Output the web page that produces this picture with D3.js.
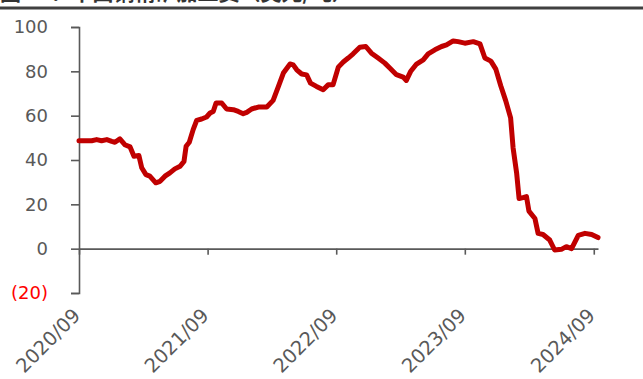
<!DOCTYPE html>
<html>
<head>
<meta charset="utf-8">
<script src="https://cdn.jsdelivr.net/npm/d3@7"></script>
<style>
	body { margin: 0; background: #fff; }
	#chart { width: 643px; height: 379px; }
</style>
</head>
<body>
<div id="chart"></div>
<script>
// 铜精矿加工费 (美元/吨)
const dates = [
	'2020-09-01', '2020-10-07', '2020-10-21', '2020-11-04', '2020-11-19', '2020-12-03', '2020-12-12', '2020-12-26',
	'2021-01-09', '2021-01-24', '2021-02-04', '2021-02-18', '2021-02-26', '2021-03-10', '2021-03-21', '2021-04-07',
	'2021-04-19', '2021-05-03', '2021-05-17', '2021-05-31', '2021-06-15', '2021-06-26', '2021-07-02', '2021-07-11',
	'2021-07-22', '2021-08-01', '2021-08-15', '2021-08-29', '2021-09-08', '2021-09-17', '2021-09-25', '2021-10-11',
	'2021-10-25', '2021-11-13', '2021-11-27', '2021-12-11', '2021-12-21', '2022-01-04', '2022-01-23', '2022-02-16',
	'2022-03-06', '2022-03-21', '2022-04-04', '2022-04-23', '2022-05-02', '2022-05-12', '2022-05-26', '2022-06-09',
	'2022-06-20', '2022-07-07', '2022-07-26', '2022-08-09', '2022-08-23', '2022-09-07', '2022-09-21', '2022-10-05',
	'2022-10-19', '2022-11-07', '2022-11-24', '2022-12-10', '2022-12-29', '2023-01-17', '2023-01-31', '2023-02-19',
	'2023-03-10', '2023-03-19', '2023-03-31', '2023-04-17', '2023-05-06', '2023-05-20', '2023-06-08', '2023-06-27',
	'2023-07-11', '2023-07-30', '2023-08-13', '2023-09-01', '2023-09-25', '2023-10-14', '2023-10-28', '2023-11-14',
	'2023-11-28', '2023-12-12', '2023-12-26', '2024-01-09', '2024-01-16', '2024-01-26', '2024-02-02', '2024-02-13',
	'2024-02-23', '2024-03-01', '2024-03-18', '2024-03-27', '2024-04-10', '2024-04-29', '2024-05-13', '2024-06-01',
	'2024-06-15', '2024-06-30', '2024-07-19', '2024-08-07', '2024-08-26', '2024-09-13'
];
const values = [
	48.7, 48.7, 49.2, 48.7, 49.2, 48.4, 48.0, 49.5,
	46.9, 45.9, 41.7, 42.0, 36.5, 33.4, 32.7, 29.7,
	30.4, 32.7, 34.2, 36.0, 37.2, 39.4, 46.2, 48.0,
	53.7, 57.9, 58.5, 59.4, 61.2, 61.9, 65.7, 65.7,
	63.0, 62.7, 61.9, 60.9, 61.5, 63.0, 63.9, 63.9,
	66.9, 73.2, 79.2, 83.3, 82.9, 80.7, 78.8, 78.4,
	74.7, 73.2, 71.7, 73.9, 73.9, 81.9, 84.2, 86.0,
	87.9, 90.9, 91.2, 88.2, 86.0, 83.7, 81.5, 78.5,
	77.4, 75.9, 79.9, 83.3, 85.2, 87.9, 89.7, 91.2,
	91.9, 93.7, 93.4, 92.7, 93.4, 92.4, 86.0, 84.6,
	81.0, 73.5, 66.8, 59.0, 45.5, 34.2, 22.6, 23.0,
	23.5, 16.9, 13.6, 6.9, 6.4, 3.9, -0.6, -0.3,
	0.9, 0.0, 6.0, 6.9, 6.4, 5.0
];
const yTicks = [-20, 0, 20, 40, 60, 80, 100];
const xTicks = ['2020-09-01', '2021-09-01', '2022-09-01', '2023-09-01', '2024-09-01'];
const title = '图 31：中国铜精矿加工费（美元/吨）';

const width = 643;
const height = 379;
const margins = { top: 27, left: 79, right: 45, bottom: 86 };
const parse = d3.timeParse('%Y-%m-%d');
const data = dates.map((d, i) => [parse(d), values[i]]);
const axisColor = '#595959';
const font = '"DejaVu Sans", sans-serif';

const svg = d3.select('#chart').append('svg')
	.attr('width', width)
	.attr('height', height);

// 标题 (截图时被截掉一半)
svg.append('text')
	.attr('x', 0)
	.attr('y', 0)
	.style('font-family', '"Noto Sans CJK SC", sans-serif')
	.style('font-weight', 'bold')
	.style('font-size', '21px')
	.style('fill', '#333')
	.text(title);
svg.append('rect')
	.attr('x', 0)
	.attr('y', 6.5)
	.attr('width', width)
	.attr('height', 3)
	.style('fill', '#404040');

let xScale = d3.scaleTime()
	.domain([parse('2020-09-01'), parse('2024-09-13')])
	.range([margins.left, width - margins.right]);
let yScale = d3.scaleLinear()
	.domain([-20, 100])
	.range([height - margins.bottom, margins.top]);

// y 轴
let yAxis = d3.axisLeft(yScale)
	.tickValues(yTicks)
	.tickSize(8)
	.tickSizeOuter(8)
	.tickPadding(23)
	.tickFormat(d => d < 0 ? `(${-d})` : d);
let gY = svg.append('g')
	.attr('class', 'y axis')
	.attr('transform', `translate(${margins.left},0)`)
	.call(yAxis);
gY.selectAll('path, line').style('stroke', axisColor).style('stroke-width', 1.6);
gY.selectAll('text')
	.style('font-family', font)
	.style('font-size', '18px')
	.style('fill', d => d < 0 ? '#ff0000' : axisColor);

// x 轴 (在 0 的位置)
let xAxis = d3.axisBottom(xScale)
	.tickValues(xTicks.map(parse))
	.tickSize(6)
	.tickSizeOuter(0)
	.tickFormat(d3.timeFormat('%Y/%m'));
let gX = svg.append('g')
	.attr('class', 'x axis')
	.attr('transform', `translate(0,${yScale(0)})`)
	.call(xAxis);
gX.selectAll('path, line').style('stroke', axisColor).style('stroke-width', 1.6);
gX.selectAll('text')
	.attr('y', 0)
	.attr('dy', 0)
	.attr('transform', 'translate(2,68) rotate(-45)')
	.style('text-anchor', 'end')
	.style('font-family', font)
	.style('font-size', '19.5px')
	.style('fill', axisColor);

// 折线
let line = d3.line()
	.x(d => xScale(d[0]))
	.y(d => yScale(d[1]));
svg.append('path')
	.datum(data)
	.attr('d', line)
	.style('fill', 'none')
	.style('stroke', '#c00000')
	.style('stroke-width', 5)
	.style('stroke-linejoin', 'round')
	.style('stroke-linecap', 'round');
</script>
</body>
</html>
